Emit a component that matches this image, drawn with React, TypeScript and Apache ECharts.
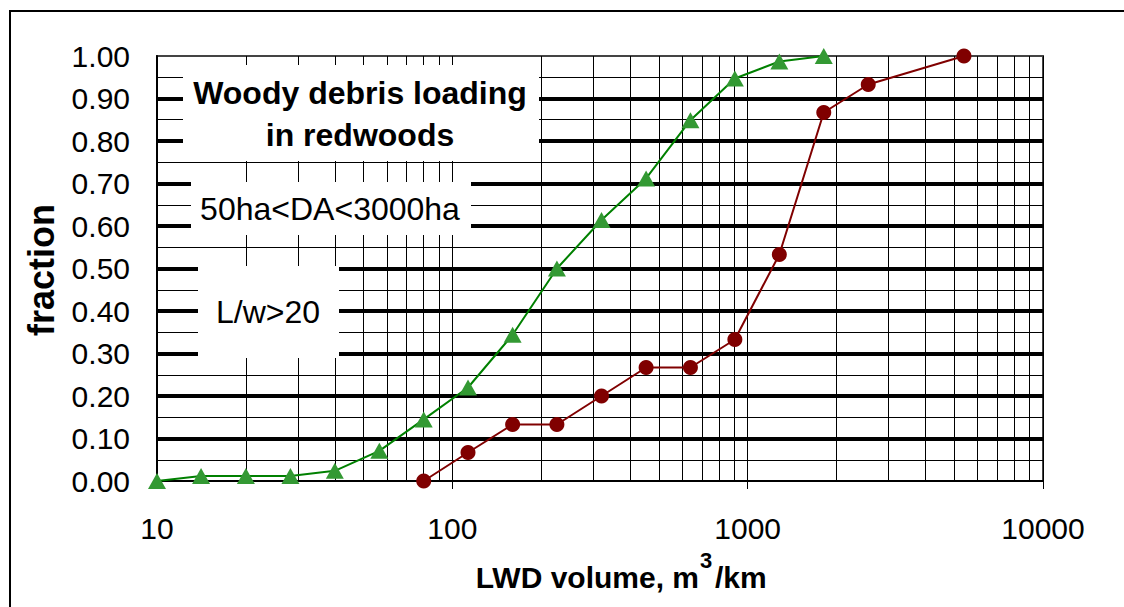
import React, { useEffect, useRef } from "react";
import * as echarts from "echarts";

// LWD volume (m3/km) and cumulative fraction
const greenX = [10, 14.1, 20, 28.3, 40, 56.6, 80, 113, 160, 226, 320, 453, 640, 905, 1280, 1810];
const greenY = [0, 0.012, 0.012, 0.012, 0.024, 0.071, 0.145, 0.22, 0.344, 0.5, 0.614, 0.712, 0.849, 0.947, 0.987, 1.0];
const redX = [80, 113, 160, 226, 320, 453, 640, 905, 1280, 1810, 2560, 5400];
const redY = [0, 0.067, 0.133, 0.133, 0.2, 0.267, 0.267, 0.333, 0.533, 0.867, 0.933, 1.0];

const decades = [10, 100, 1000];
const multipliers = [2, 3, 4, 5, 6, 7, 8, 9];

const FONT = '"Liberation Sans", Arial, sans-serif';

export default function App() {
  const ref = useRef<HTMLDivElement>(null);
  useEffect(() => {
    if (!ref.current) return;
    const chart = echarts.init(ref.current, null, { renderer: "svg" });
    const minorLines: any[] = [];
    decades.forEach((d) => multipliers.forEach((m) => minorLines.push({ xAxis: d * m })));

    const txt = (x: number, y: number, text: string, size: number, bold: boolean, align = "center", rotation = 0) => ({
      type: "text",
      x,
      y,
      rotation,
      z: 101,
      style: {
        text,
        fill: "#000",
        fontSize: size,
        fontWeight: bold ? "bold" : "normal",
        fontFamily: FONT,
        textAlign: align,
        textVerticalAlign: "middle",
      },
    });
    const boxRect = (x1: number, y1: number, x2: number, y2: number) => ({
      type: "rect",
      z: 100,
      shape: { x: x1, y: y1, width: x2 - x1, height: y2 - y1 },
      style: { fill: "#fff", stroke: null },
    });

    chart.setOption({
      animation: false,
      backgroundColor: "#fff",
      grid: {
        left: 157,
        right: 81,
        top: 56,
        bottom: 126,
        show: true,
        borderColor: "#444",
        borderWidth: 2,
      },
      xAxis: {
        type: "log",
        logBase: 10,
        min: 10,
        max: 10000,
        axisLine: { show: true, lineStyle: { color: "#000", width: 2 } },
        axisTick: { show: true, length: 8, lineStyle: { color: "#000", width: 1 } },
        axisLabel: {
          margin: 32,
          fontSize: 30,
          fontFamily: FONT,
          color: "#000",
          formatter: (v: number) => String(Math.round(v)),
        },
        splitLine: { show: true, lineStyle: { color: "#000", width: 1 } },
        minorTick: { show: false },
        minorSplitLine: { show: false },
      },
      yAxis: {
        type: "value",
        min: 0,
        max: 1,
        interval: 0.1,
        axisLine: { show: true, lineStyle: { color: "#000", width: 2 } },
        axisTick: { show: false },
        axisLabel: {
          margin: 27,
          fontSize: 30,
          fontFamily: FONT,
          color: "#000",
          formatter: (v: number) => v.toFixed(2),
        },
        splitLine: { show: true, showMinLine: false, showMaxLine: false, lineStyle: { color: "#000", width: 4 } },
        minorTick: { show: false, splitNumber: 2 },
        minorSplitLine: { show: true, lineStyle: { color: "#000", width: 1 } },
      },
      series: [
        {
          type: "line",
          data: redX.map((x, i) => [x, redY[i]]),
          symbol: "circle",
          symbolSize: 15,
          clip: false,
          itemStyle: { color: "#800000" },
          lineStyle: { color: "#800000", width: 2 },
          z: 5,
          markLine: {
            silent: true,
            symbol: "none",
            label: { show: false },
            lineStyle: { color: "#000", width: 1, type: "solid" },
            data: minorLines,
            z: 1,
          },
        },
        {
          type: "line",
          data: greenX.map((x, i) => [x, greenY[i]]),
          symbol: "triangle",
          symbolSize: [18, 16],
          clip: false,
          itemStyle: { color: "#339933" },
          lineStyle: { color: "#008000", width: 2 },
          z: 6,
        },
      ],
      graphic: [
        {
          type: "rect",
          z: 100,
          shape: { x: 10, y: 11, width: 1140, height: 620 },
          style: { fill: "none", stroke: "#000", lineWidth: 2 },
        },
        boxRect(183, 65, 539, 161),
        txt(360, 93, "Woody debris loading", 32, true),
        txt(360, 135, "in redwoods", 32, true),
        boxRect(191, 182, 471, 235),
        txt(330, 209, "50ha<DA<3000ha", 32, false),
        boxRect(198, 266, 339, 358),
        txt(268, 312, "L/w>20", 32, false),
        txt(41, 270, "fraction", 36, true, "center", Math.PI / 2),
        txt(699, 577, "LWD volume, m", 30, true, "right"),
        txt(706, 560, "3", 22, true, "center"),
        txt(715, 577, "/km", 30, true, "left"),
      ],
    });
    return () => chart.dispose();
  }, []);
  return <div ref={ref} style={{ position: "fixed", left: 0, top: 0, width: 1124, height: 607 }} />;
}
